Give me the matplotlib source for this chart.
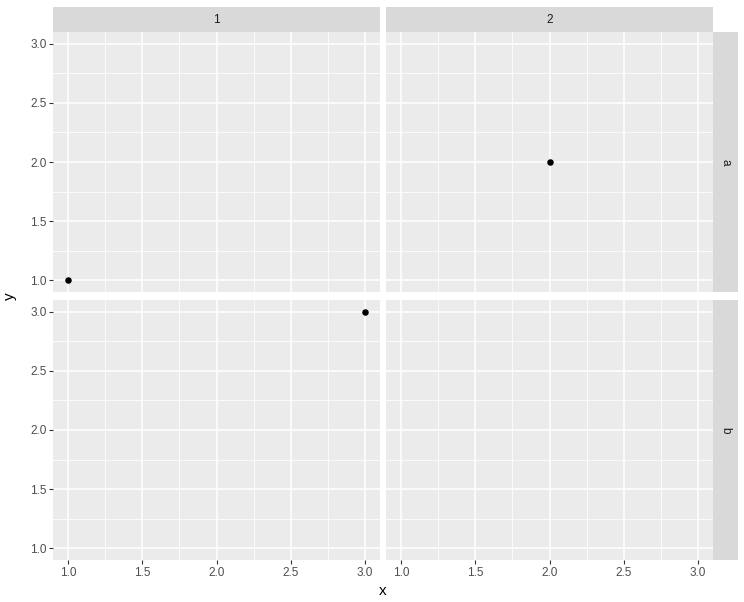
import matplotlib
matplotlib.use('Agg')
import matplotlib.pyplot as plt
import numpy as np

# data
xs = [1, 2, 3]
ys = [1, 2, 3]
cols = ['1', '2', '1']
rows = ['a', 'a', 'b']
col_levels = ['1', '2']
row_levels = ['a', 'b']
ticks = [1.0, 1.5, 2.0, 2.5, 3.0]
tick_labels = ['1.0', '1.5', '2.0', '2.5', '3.0']

plt.rcParams['font.family'] = ['Liberation Sans', 'DejaVu Sans']

W, H = 744, 602
fig = plt.figure(figsize=(W / 100, H / 100), dpi=100)


def px(x0, y0, x1, y1):
    return [x0 / W, 1 - y1 / H, (x1 - x0) / W, (y1 - y0) / H]


col_x = [(53, 380), (386, 713)]
row_y = [(32, 292), (300, 560)]
pad = 0.1

for ri, rl in enumerate(row_levels):
    for ci, cl in enumerate(col_levels):
        x0, x1 = col_x[ci]
        y0, y1 = row_y[ri]
        ax = fig.add_axes(px(x0, y0, x1, y1))
        ax.set_facecolor('#EBEBEB')
        px_ = [x for x, c, r in zip(xs, cols, rows) if c == cl and r == rl]
        py_ = [y for y, c, r in zip(ys, cols, rows) if c == cl and r == rl]
        ax.scatter(px_, py_, s=22, color='black', zorder=3, linewidths=0)
        ax.set_xlim(1 - pad, 3 + pad)
        ax.set_ylim(1 - pad, 3 + pad)
        ax.set_xticks(ticks)
        ax.set_yticks(ticks)
        ax.set_xticks([1.25, 1.75, 2.25, 2.75], minor=True)
        ax.set_yticks([1.25, 1.75, 2.25, 2.75], minor=True)
        ax.grid(True, which='major', color='white', linewidth=1.1)
        ax.grid(True, which='minor', color='white', linewidth=0.55)
        ax.set_axisbelow(True)
        for s in ax.spines.values():
            s.set_visible(False)
        ax.tick_params(which='minor', length=0)
        ax.tick_params(which='major', length=2.7, width=0.8, color='#333333',
                       labelsize=8.5, labelcolor='#4D4D4D', pad=2)
        if ci == 0:
            ax.set_yticklabels(tick_labels)
        else:
            ax.tick_params(axis='y', which='major', left=False, labelleft=False)
        if ri == 1:
            ax.set_xticklabels(tick_labels)
        else:
            ax.tick_params(axis='x', which='major', bottom=False, labelbottom=False)

# top strips
for ci, cl in enumerate(col_levels):
    x0, x1 = col_x[ci]
    sax = fig.add_axes(px(x0, 7, x1, 32))
    sax.set_facecolor('#D9D9D9')
    sax.set_xticks([])
    sax.set_yticks([])
    for s in sax.spines.values():
        s.set_visible(False)
    sax.text(0.5, 0.48, cl, ha='center', va='center', fontsize=8.5,
             color='#1A1A1A', transform=sax.transAxes)

# right strips
for ri, rl in enumerate(row_levels):
    y0, y1 = row_y[ri]
    sax = fig.add_axes(px(713, y0, 738, y1))
    sax.set_facecolor('#D9D9D9')
    sax.set_xticks([])
    sax.set_yticks([])
    for s in sax.spines.values():
        s.set_visible(False)
    sax.text(0.5, 0.5, rl, ha='center', va='center', fontsize=8.5,
             color='#1A1A1A', rotation=-90, transform=sax.transAxes)

fig.text(383 / W, 1 - 591 / H, 'x', ha='center', va='center', fontsize=11, color='black')
fig.text(10 / W, 1 - 296 / H, 'y', ha='center', va='center', fontsize=11,
         rotation=90, color='black')

fig.savefig('out.png', dpi=100)
